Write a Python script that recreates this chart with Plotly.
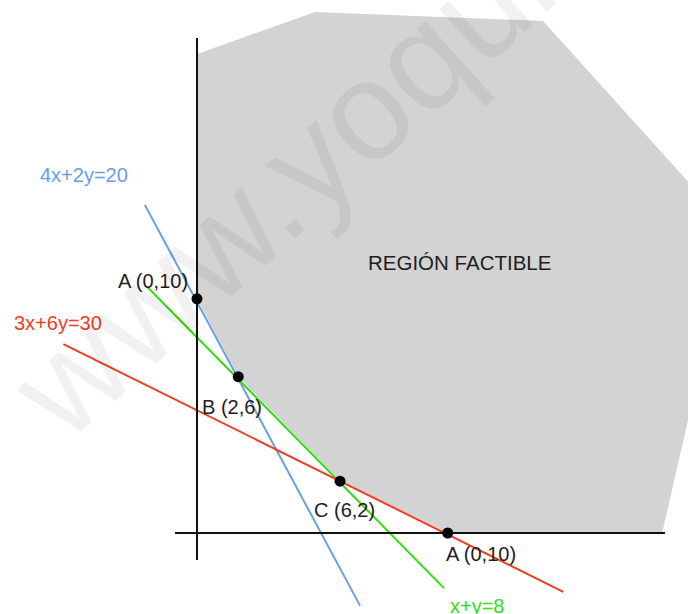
import plotly.graph_objects as go

# ---- data (units) ----
region_x = [0, 4.78, 14.01, 19.95, 19.95, 18.83, 10.15, 5.79, 1.67, 0]
region_y = [19.39, 21.09, 20.73, 14.15, 4.86, 0, 0, 2.10, 6.33, 9.48]

blue_x = [-2.11, 6.60]      # 4x+2y=20
blue_y = [13.28, -2.94]
green_x = [-2.04, 10.00]    # x+y=8
green_y = [9.99, -2.23]
red_x = [-5.41, 14.83]      # 3x+6y=30
red_y = [7.65, -2.38]

xaxis_line_x = [-0.89, 18.95]
xaxis_line_y = [0, 0]
yaxis_line_x = [0, 0]
yaxis_line_y = [20.04, -1.09]

point_names = ["A (0,10)", "B (2,6)", "C (6,2)", "A (0,10)"]
point_x = [0, 1.67, 5.79, 10.15]
point_y = [9.48, 6.33, 2.10, 0]

line_labels = ["4x+2y=20", "3x+6y=30", "x+y=8"]
line_colors = ["#6a9fe2", "#f23c1f", "#33dd11"]

# label anchor positions (left edge, vertical middle)
line_label_x = [-6.44, -7.49, 10.16]
line_label_y = [14.49, 8.50, -2.96]
point_label_x = [-3.28, 0.12, 4.66, 10.0]
point_label_y = [10.20, 5.10, 0.93, -0.85]
region_label = "REGIÓN FACTIBLE"
region_label_pos = (6.84, 10.97)

FONT = "Liberation Sans, Arial, sans-serif"
SCALE = 24.7       # pixels per unit
OX, OY = 197, 533  # pixel of the origin
W, H = 688, 614

fig = go.Figure()

fig.add_trace(go.Scatter(x=region_x, y=region_y, fill="toself", fillcolor="#d3d3d3",
                         mode="lines", line=dict(width=0, color="#d3d3d3"),
                         hoverinfo="skip", showlegend=False))

for xs, ys, col in [(blue_x, blue_y, line_colors[0]),
                    (green_x, green_y, line_colors[2]),
                    (red_x, red_y, line_colors[1])]:
    fig.add_trace(go.Scatter(x=xs, y=ys, mode="lines", line=dict(color=col, width=2),
                             hoverinfo="skip", showlegend=False))

for xs, ys in [(xaxis_line_x, xaxis_line_y), (yaxis_line_x, yaxis_line_y)]:
    fig.add_trace(go.Scatter(x=xs, y=ys, mode="lines", line=dict(color="#111111", width=2),
                             hoverinfo="skip", showlegend=False))

fig.add_trace(go.Scatter(x=point_x, y=point_y, mode="markers",
                         marker=dict(color="black", size=11), text=point_names,
                         hoverinfo="text", showlegend=False))

for name, lx, ly in zip(point_names, point_label_x, point_label_y):
    fig.add_annotation(x=lx, y=ly, text=name, showarrow=False, xanchor="left", yanchor="middle",
                       font=dict(family=FONT, size=20, color="#1e1e1e"))

for name, col, lx, ly in zip(line_labels, line_colors, line_label_x, line_label_y):
    fig.add_annotation(x=lx, y=ly, text=name, showarrow=False, xanchor="left", yanchor="middle",
                       font=dict(family=FONT, size=20, color=col))

fig.add_annotation(x=region_label_pos[0], y=region_label_pos[1], text=region_label,
                   showarrow=False, xanchor="left", yanchor="middle",
                   font=dict(family=FONT, size=20.5, color="#1e1e1e"))

# watermark
fig.add_annotation(text="www.yoquieroaprobar.es", xref="paper", yref="paper",
                   x=0.876, y=1.168, showarrow=False, textangle=-42,
                   xanchor="center", yanchor="middle",
                   font=dict(family=FONT, size=140, color="rgba(0,0,0,0.055)"))

fig.update_layout(width=W, height=H, autosize=False,
                  margin=dict(l=0, r=0, t=0, b=0),
                  paper_bgcolor="white", plot_bgcolor="white",
                  xaxis=dict(range=[-OX / SCALE, (W - OX) / SCALE],
                             visible=False, showgrid=False, zeroline=False, fixedrange=True),
                  yaxis=dict(range=[(OY - H) / SCALE, OY / SCALE],
                             visible=False, showgrid=False, zeroline=False, fixedrange=True))

fig.write_html("out.html", config={"displayModeBar": False, "staticPlot": True},
               post_script="document.body.style.margin='0';document.body.style.overflow='hidden';")
